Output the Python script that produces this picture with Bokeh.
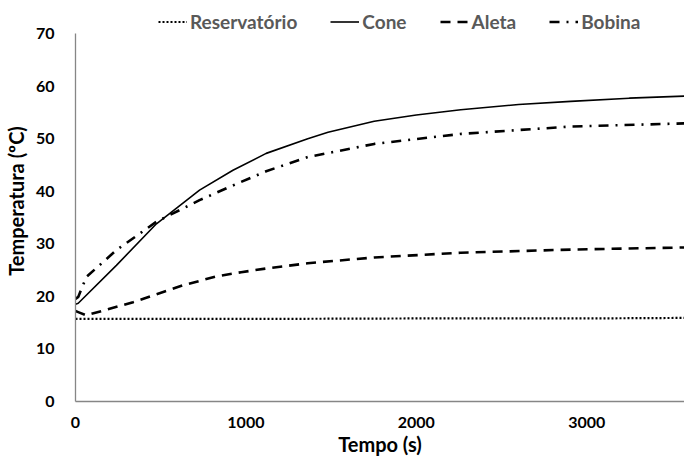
from bokeh.plotting import figure
from bokeh.models import Range1d, Legend, LegendItem, FixedTicker
from bokeh.embed import file_html
from bokeh.resources import INLINE

# ---- data ----
res_t = [0, 1000, 2000, 3000, 3574]
res_T = [15.7, 15.7, 15.8, 15.8, 15.9]

cone_t = [0, 16, 240, 475, 728, 924, 1119, 1363, 1482, 1753, 2000, 2261, 2600, 2906, 3250, 3574]
cone_T = [18.5, 18.7, 25.9, 33.8, 40.2, 44.0, 47.2, 50.0, 51.2, 53.3, 54.5, 55.5, 56.5, 57.1, 57.7, 58.1]

aleta_t = [0, 16, 64, 338, 631, 826, 972, 1119, 1363, 1753, 2261, 2906, 3574]
aleta_T = [17.2, 17.0, 16.4, 18.9, 22.1, 23.8, 24.6, 25.3, 26.3, 27.4, 28.3, 28.9, 29.3]

bob_t = [0, 16, 64, 240, 475, 728, 924, 1119, 1363, 1753, 2261, 2906, 3574]
bob_T = [19.5, 19.9, 23.7, 28.8, 34.2, 38.3, 41.1, 43.8, 46.5, 49.0, 50.9, 52.3, 52.9]

x_ticks = [0, 1000, 2000, 3000]
y_ticks = [0, 10, 20, 30, 40, 50, 60, 70]
y_axis_max = 70
x_title = "Tempo (s)"
y_title = "Temperatura (ºC)"
names = ["Reservatório", "Cone", "Aleta", "Bobina"]

FONT = "Lato"

# frame spans the whole top so the legend can sit inside it; axis line stops at 70
p = figure(width=684, height=459, output_backend="svg", toolbar_location=None,
           x_range=Range1d(0, 3574), y_range=Range1d(0, 76.28),
           min_border_left=74, min_border_right=0, min_border_bottom=58, min_border_top=0)
p.outline_line_color = None
p.xgrid.visible = False
p.ygrid.visible = False
p.background_fill_color = "white"

r1 = p.line(res_t, res_T, line_color="black", line_width=2.2, line_dash="2 2")
r2 = p.line(cone_t, cone_T, line_color="black", line_width=1.6)
r3 = p.line(aleta_t, aleta_T, line_color="black", line_width=2.6, line_dash="10 7")
r4 = p.line(bob_t, bob_T, line_color="black", line_width=2.6, line_dash="10 7 2 7")

for ax in (p.xaxis[0], p.yaxis[0]):
    ax.axis_line_color = "#868686"
    ax.axis_line_width = 1.3
    ax.major_tick_line_color = None
    ax.minor_tick_line_color = None
    ax.major_tick_in = 0
    ax.major_tick_out = 0
    ax.minor_tick_in = 0
    ax.minor_tick_out = 0
    ax.major_label_text_font = FONT
    ax.major_label_text_font_style = "bold"
    ax.major_label_text_font_size = "16px"
    ax.major_label_text_color = "black"
    ax.axis_label_text_font = FONT
    ax.axis_label_text_font_style = "bold"
    ax.axis_label_text_font_size = "20px"
    ax.axis_label_text_color = "black"

p.xaxis.ticker = FixedTicker(ticks=x_ticks)
p.yaxis.ticker = FixedTicker(ticks=y_ticks)
p.yaxis.bounds = (0, y_axis_max)
p.xaxis.axis_label = x_title
p.yaxis.axis_label = y_title
p.xaxis.major_label_standoff = 15
p.xaxis.axis_label_standoff = 1
p.yaxis.major_label_standoff = 21
p.yaxis.axis_label_standoff = 5

legend = Legend(items=[LegendItem(label=names[0], renderers=[r1]),
                       LegendItem(label=names[1], renderers=[r2]),
                       LegendItem(label=names[2], renderers=[r3]),
                       LegendItem(label=names[3], renderers=[r4])],
                orientation="horizontal", location=(83, 368),
                label_text_font=FONT, label_text_font_style="bold",
                label_text_font_size="19px", label_text_color="#595959",
                glyph_width=29, glyph_height=19, label_standoff=3, spacing=33,
                padding=0, margin=0, border_line_color=None, background_fill_alpha=0)
p.add_layout(legend, "center")

open("out.html", "w").write(file_html(p, INLINE))
